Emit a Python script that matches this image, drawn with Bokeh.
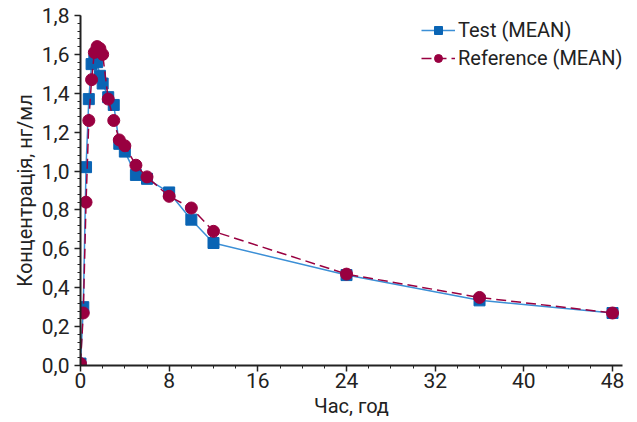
from bokeh.plotting import figure
from bokeh.models import Range1d, SingleIntervalTicker, CustomJSTickFormatter, Legend, LegendItem
from bokeh.embed import file_html
from bokeh.resources import INLINE

time_h = [0, 0.25, 0.5, 0.75, 1, 1.25, 1.5, 1.75, 2, 2.5, 3, 3.5, 4, 5, 6, 8, 10, 12, 24, 36, 48]
test_mean = [0.01, 0.30, 1.02, 1.37, 1.55, 1.57, 1.56, 1.49, 1.45, 1.38, 1.34, 1.14, 1.10, 0.98, 0.96, 0.89, 0.75, 0.63, 0.465, 0.335, 0.27]
ref_mean = [0.01, 0.27, 0.84, 1.26, 1.47, 1.61, 1.64, 1.63, 1.60, 1.37, 1.26, 1.16, 1.13, 1.03, 0.97, 0.87, 0.81, 0.69, 0.47, 0.35, 0.27]

FONT = "Roboto"
BLUE = "#0a64b4"
BLUE_LINE = "#3b8fd6"
RED = "#990040"

p = figure(width=637, height=422, output_backend="svg", toolbar_location=None,
           x_range=Range1d(0, 48.9), y_range=Range1d(0, 1.8),
           min_border_left=80, min_border_top=15, min_border_right=15, min_border_bottom=57)
p.outline_line_color = None
p.xgrid.visible = False
p.ygrid.visible = False

l1 = p.line(time_h, test_mean, line_color=BLUE_LINE, line_width=1.5)
m1 = p.scatter(time_h, test_mean, marker="square", size=11, fill_color=BLUE, line_color=BLUE)
l2 = p.line(time_h, ref_mean, line_color=RED, line_width=1.5, line_dash="10 5")
m2 = p.scatter(time_h, ref_mean, marker="circle", size=12, fill_color=RED, line_color=RED)

p.xaxis.ticker = SingleIntervalTicker(interval=8, num_minor_ticks=4)
p.yaxis.ticker = SingleIntervalTicker(interval=0.2, num_minor_ticks=5)
p.yaxis.formatter = CustomJSTickFormatter(code="return tick.toFixed(1).replace('.', ',');")

for ax in (p.xaxis, p.yaxis):
    ax.axis_line_color = "#222222"
    ax.axis_line_width = 2
    ax.major_tick_line_color = "#222222"
    ax.major_tick_line_width = 1.5
    ax.minor_tick_line_color = "#222222"
    ax.major_tick_out = 6
    ax.major_tick_in = 0
    ax.minor_tick_out = 3
    ax.minor_tick_in = 0
    ax.major_label_text_font = FONT
    ax.major_label_text_font_size = "21px"
    ax.major_label_text_color = "#222222"
    ax.axis_label_text_font = FONT
    ax.axis_label_text_font_size = "20px"
    ax.axis_label_text_font_style = "normal"
    ax.axis_label_text_color = "#222222"

p.xaxis.axis_label = "Час, год"
p.yaxis.axis_label = "Концентрація, нг/мл"
p.xaxis.major_label_standoff = 1
p.yaxis.major_label_standoff = 5
p.xaxis.axis_label_standoff = 3
p.yaxis.axis_label_standoff = 2

legend = Legend(items=[LegendItem(label="Test (MEAN)", renderers=[l1, m1]),
                       LegendItem(label="Reference (MEAN)", renderers=[l2, m2])],
                location=(341, 295))
legend.border_line_color = None
legend.background_fill_alpha = 0
legend.label_text_font = FONT
legend.label_text_font_size = "20px"
legend.label_text_color = "#222222"
legend.glyph_width = 34
legend.spacing = 4
legend.margin = 0
legend.padding = 0
legend.label_standoff = 3
p.add_layout(legend)

open("out.html", "w").write(file_html(p, INLINE))
